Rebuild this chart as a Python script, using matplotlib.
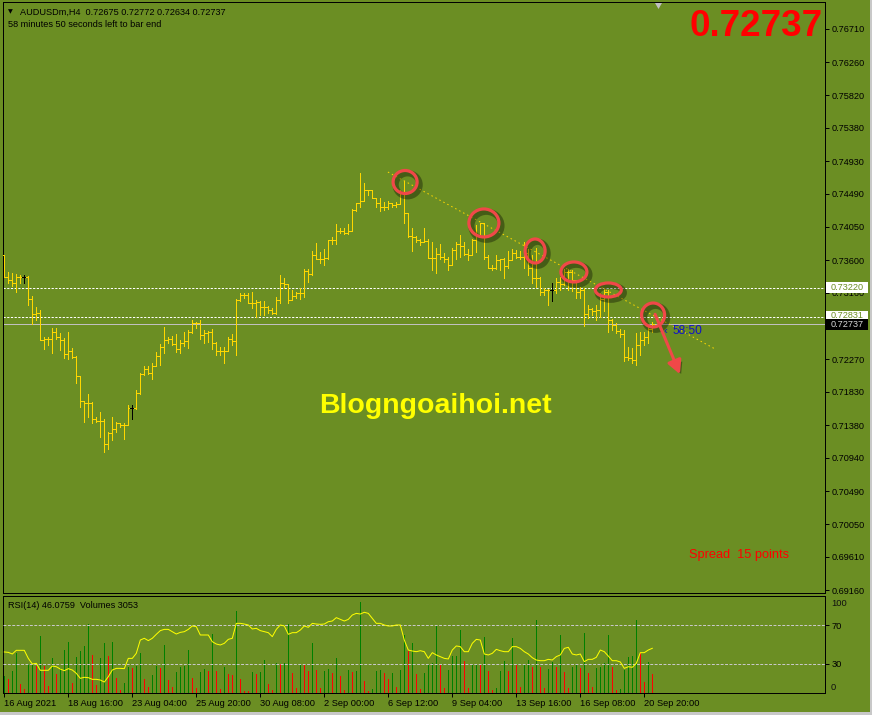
import numpy as np
import matplotlib
matplotlib.use('Agg')
import matplotlib.pyplot as plt
from matplotlib.collections import LineCollection
from matplotlib.patches import Ellipse, FancyArrowPatch, Polygon, Rectangle
import matplotlib.patheffects as pe

# ---------------- data ----------------
symbol = 'AUDUSDm,H4'
ohlc_now = [0.72675, 0.72772, 0.72634, 0.72737]
first_open = 0.7367

closes = [0.7337, 0.7333, 0.7329, 0.7337, 0.7337, 0.7337, 0.7308, 0.7288, 0.7289, 0.7253,
          0.7254, 0.7254, 0.7263, 0.7257, 0.7253, 0.7234, 0.7238, 0.7230, 0.7204, 0.7171,
          0.7168, 0.7168, 0.7146, 0.7144, 0.7144, 0.7113, 0.7128, 0.7133, 0.7141, 0.7138,
          0.7138, 0.7161, 0.7161, 0.7181, 0.7207, 0.7214, 0.7208, 0.7217, 0.7231, 0.7243,
          0.7253, 0.7254, 0.7247, 0.7240, 0.7249, 0.7251, 0.7263, 0.7276, 0.7276, 0.7259,
          0.7262, 0.7263, 0.7249, 0.7238, 0.7238, 0.7238, 0.7254, 0.7251, 0.7306, 0.7313,
          0.7313, 0.7302, 0.7302, 0.7304, 0.7297, 0.7297, 0.7293, 0.7289, 0.7306, 0.7329,
          0.7328, 0.7306, 0.7312, 0.7316, 0.7316, 0.7345, 0.7341, 0.7367, 0.7361, 0.7361,
          0.7363, 0.7387, 0.7387, 0.7399, 0.7399, 0.7396, 0.7399, 0.7427, 0.7437, 0.7440,
          0.7454, 0.7454, 0.7443, 0.7437, 0.7431, 0.7432, 0.7437, 0.7434, 0.7435, 0.7450,
          0.7423, 0.7392, 0.7391, 0.7387, 0.7385, 0.7386, 0.7363, 0.7363, 0.7368, 0.7364,
          0.7362, 0.7353, 0.7374, 0.7382, 0.7379, 0.7368, 0.7367, 0.7387, 0.7394, 0.7410,
          0.7364, 0.7350, 0.7350, 0.7360, 0.7362, 0.7352, 0.7360, 0.7370, 0.7364, 0.7364,
          0.7370, 0.7349, 0.7336, 0.7336, 0.7317, 0.7320, 0.7320, 0.7320, 0.7331, 0.7328,
          0.7344, 0.7344, 0.7333, 0.7317, 0.7320, 0.7288, 0.7294, 0.7291, 0.7293, 0.7308,
          0.7317, 0.7280, 0.7273, 0.7265, 0.7260, 0.7230, 0.7228, 0.7226, 0.7246, 0.7253,
          0.7256, 0.72675, 0.72737]

highs = [0.7367, 0.7344, 0.7343, 0.7341, 0.7340, 0.7340, 0.7338, 0.7312, 0.7297, 0.7293,
         0.7257, 0.7257, 0.7269, 0.7269, 0.7262, 0.7255, 0.7263, 0.7242, 0.7231, 0.7204,
         0.7169, 0.7180, 0.7169, 0.7149, 0.7156, 0.7146, 0.7129, 0.7149, 0.7142, 0.7141,
         0.7141, 0.7165, 0.7165, 0.7185, 0.7208, 0.7218, 0.7217, 0.7222, 0.7236, 0.7247,
         0.7270, 0.7257, 0.7258, 0.7260, 0.7253, 0.7263, 0.7266, 0.7280, 0.7277, 0.7280,
         0.7266, 0.7265, 0.7268, 0.7250, 0.7243, 0.7243, 0.7257, 0.7260, 0.7308, 0.7316,
         0.7316, 0.7316, 0.7317, 0.7306, 0.7305, 0.7305, 0.7298, 0.7296, 0.7310, 0.7340,
         0.7336, 0.7328, 0.7320, 0.7317, 0.7322, 0.7348, 0.7348, 0.7372, 0.7383, 0.7371,
         0.7375, 0.7387, 0.7391, 0.7409, 0.7403, 0.7403, 0.7409, 0.7429, 0.7437, 0.7477,
         0.7464, 0.7453, 0.7454, 0.7444, 0.7443, 0.7438, 0.7440, 0.7437, 0.7438, 0.7454,
         0.7466, 0.7422, 0.7403, 0.7392, 0.7388, 0.7403, 0.7389, 0.7384, 0.7376, 0.7382,
         0.7370, 0.7364, 0.7377, 0.7384, 0.7394, 0.7384, 0.7375, 0.7389, 0.7407, 0.7410,
         0.7410, 0.7367, 0.7353, 0.7367, 0.7361, 0.7363, 0.7372, 0.7375, 0.7374, 0.7372,
         0.7384, 0.7375, 0.7367, 0.7377, 0.7337, 0.7322, 0.7321, 0.7329, 0.7336, 0.7337,
         0.7348, 0.7348, 0.7347, 0.7322, 0.7324, 0.7322, 0.7300, 0.7296, 0.7300, 0.7316,
         0.7322, 0.7320, 0.7281, 0.7275, 0.7267, 0.7266, 0.7243, 0.7242, 0.7262, 0.7263,
         0.7263, 0.7270, 0.72772]

lows = [0.7337, 0.7329, 0.7325, 0.7317, 0.7329, 0.7329, 0.7300, 0.7274, 0.7280, 0.7253,
        0.7240, 0.7246, 0.7235, 0.7254, 0.7239, 0.7228, 0.7227, 0.7228, 0.7195, 0.7163,
        0.7142, 0.7149, 0.7141, 0.7142, 0.7122, 0.7102, 0.7106, 0.7118, 0.7129, 0.7136,
        0.7119, 0.7138, 0.7146, 0.7160, 0.7180, 0.7205, 0.7207, 0.7200, 0.7218, 0.7219,
        0.7235, 0.7249, 0.7246, 0.7236, 0.7235, 0.7245, 0.7242, 0.7262, 0.7269, 0.7254,
        0.7249, 0.7250, 0.7240, 0.7232, 0.7232, 0.7222, 0.7240, 0.7246, 0.7232, 0.7305,
        0.7309, 0.7302, 0.7296, 0.7284, 0.7286, 0.7286, 0.7289, 0.7288, 0.7288, 0.7302,
        0.7322, 0.7302, 0.7306, 0.7309, 0.7308, 0.7310, 0.7331, 0.7340, 0.7363, 0.7356,
        0.7353, 0.7362, 0.7382, 0.7382, 0.7396, 0.7395, 0.7395, 0.7399, 0.7426, 0.7431,
        0.7440, 0.7448, 0.7443, 0.7431, 0.7426, 0.7427, 0.7429, 0.7431, 0.7431, 0.7435,
        0.7410, 0.7391, 0.7372, 0.7384, 0.7380, 0.7384, 0.7363, 0.7347, 0.7343, 0.7361,
        0.7357, 0.7347, 0.7353, 0.7361, 0.7364, 0.7367, 0.7360, 0.7371, 0.7371, 0.7394,
        0.7361, 0.7349, 0.7347, 0.7348, 0.7347, 0.7336, 0.7350, 0.7360, 0.7363, 0.7361,
        0.7350, 0.7340, 0.7329, 0.7324, 0.7313, 0.7313, 0.7300, 0.7305, 0.7316, 0.7320,
        0.7326, 0.7320, 0.7318, 0.7309, 0.7309, 0.7272, 0.7282, 0.7286, 0.7280, 0.7284,
        0.7291, 0.7263, 0.7266, 0.7262, 0.7256, 0.7225, 0.7226, 0.7222, 0.7219, 0.7232,
        0.7246, 0.7249, 0.72634]

volumes = [2650, 2280, 3500, 6360, 1480, 580, 4560, 4600, 4240, 9010,
           4240, 1060, 5510, 2970, 4030, 6780, 8110, 1590, 5720, 6630,
           7420, 10920, 5990, 1220, 5570, 8000, 5830, 8110, 2440, 530,
           1590, 4130, 4000, 4240, 6360, 2170, 950, 2810, 4240, 4030,
           7580, 2120, 900, 3340, 4130, 4240, 6780, 2440, 850, 3340,
           3870, 3500, 9430, 3450, 580, 4130, 2970, 2900, 13040, 2280,
           320, 250, 3340, 2970, 3340, 5190, 1380, 530, 4770, 4560,
           4700, 10920, 3180, 800, 4560, 4400, 3450, 7950, 3600, 800,
           3450, 3760, 3180, 5620, 2650, 530, 3710, 3340, 3500, 14470,
           1910, 320, 580, 3500, 3600, 3180, 2280, 3180, 950, 3600,
           9170, 6680, 7950, 2970, 640, 3180, 4560, 4700, 10760, 4400,
           850, 3600, 5830, 5900, 9960, 5090, 800, 4400, 4500, 4400,
           8900, 3500, 530, 800, 3500, 5090, 3500, 8750, 4400, 950,
           4660, 5190, 4130, 11550, 4130, 800, 3820, 4930, 4130, 9170,
           3340, 800, 4130, 4560, 4030, 9540, 3180, 950, 3980, 4050,
           4770, 9170, 4130, 420, 640, 3600, 5720, 5830, 11550, 6520,
           1750, 4930, 3053]

rsi = [42.3, 41.9, 40.2, 44.0, 44.0, 44.0, 35.7, 29.9, 30.6, 23.4,
       23.4, 23.4, 27.8, 27.1, 24.7, 23.0, 25.1, 23.7, 20.3, 15.1,
       16.2, 15.8, 14.1, 14.1, 13.4, 11.3, 16.8, 23.7, 25.4, 25.4,
       25.1, 35.7, 35.7, 40.9, 54.6, 56.4, 54.0, 56.4, 60.5, 64.3,
       65.6, 65.6, 63.2, 60.8, 62.5, 63.2, 65.6, 69.1, 68.4, 59.8,
       59.8, 59.8, 52.9, 50.5, 49.5, 51.2, 55.3, 56.4, 71.8, 71.8,
       71.1, 70.1, 66.0, 66.7, 64.3, 63.2, 62.2, 58.1, 65.6, 70.1,
       69.1, 60.5, 62.2, 62.2, 64.9, 69.1, 67.7, 71.8, 71.1, 70.8,
       71.1, 73.5, 74.2, 77.7, 75.9, 74.2, 75.9, 80.4, 82.1, 81.4,
       83.2, 82.1, 77.0, 71.8, 71.8, 70.1, 69.1, 69.1, 70.1, 70.1,
       54.6, 44.3, 43.3, 42.6, 43.6, 42.6, 35.7, 41.6, 39.2, 37.5,
       35.7, 35.1, 44.3, 48.5, 47.8, 42.6, 42.6, 51.2, 55.3, 54.6,
       40.2, 39.2, 40.9, 45.0, 43.6, 42.6, 42.6, 47.8, 47.8, 46.0,
       42.6, 40.2, 36.4, 34.0, 33.3, 33.3, 34.7, 34.0, 37.5, 39.2,
       46.0, 47.1, 40.2, 39.2, 40.2, 32.3, 34.7, 34.7, 36.8, 44.3,
       42.6, 38.1, 33.3, 33.3, 32.0, 25.4, 27.1, 26.5, 30.6, 41.6,
       41.6, 44.3, 46.0759]

doji_bars = [5, 32, 137]
time_tick_bars = [0, 16, 32, 48, 64, 80, 96, 112, 128, 144, 160]
time_tick_labels = ['16 Aug 2021', '18 Aug 16:00', '23 Aug 04:00', '25 Aug 20:00',
                    '30 Aug 08:00', '2 Sep 00:00', '6 Sep 12:00', '9 Sep 04:00',
                    '13 Sep 16:00', '16 Sep 08:00', '20 Sep 20:00']
price_ticks = [0.76710, 0.76260, 0.75820, 0.75380, 0.74930, 0.74490, 0.74050, 0.73600,
               0.73160, 0.72270, 0.71830, 0.71380, 0.70940, 0.70490, 0.70050,
               0.69610, 0.69160]
level_lines = [0.73220, 0.72831]
bid = 0.72737
rsi_levels = [30, 70]
rsi_value = 46.0759
trend_bars = [95.9, 177.7]
trend_prices = [0.74785, 0.72405]
# (bar, price, radius_x_px, radius_y_px)
circles = [(100.2, 0.74651, 12, 11.5), (119.9, 0.74100, 15, 14), (132.7, 0.73723, 10, 12),
           (142.4, 0.73441, 13, 10), (151.0, 0.73199, 13, 7), (162.2, 0.72862, 11.5, 12)]
arrow_from = (162.7, 0.72872)
arrow_to = (168.9, 0.72066)
countdown = '58:50'
spread = 15
watermark = 'Blogngoaihoi.net'

# ---------------- layout ----------------
W, H = 872, 715
BG = '#6B8E23'
BAR = '#FFD700'
FONT = 'Liberation Sans'
PX = 0.72  # one pixel in points

fig = plt.figure(figsize=(W / 100, H / 100), dpi=100, facecolor=BG)

def fx(x):
    return x / W

def fy(y):
    return 1 - y / H

L, R = 3, 825
T, B = 2, 593
RT, RB = 596, 693
xlim = ((L - 4.3) / 4, (R - 4.3) / 4)

ax = fig.add_axes([fx(L), fy(B), (R - L) / W, (B - T) / H])
ax.set_facecolor(BG)
ax.set_xlim(*xlim)
ax.set_ylim(0.69123, 0.77072)

n = len(closes)
idx = np.arange(n)
opens = [first_open] + closes[:-1]
opens[-1] = ohlc_now[0]
segs, cols = [], []
for i in range(n):
    o, c = opens[i], closes[i]
    hi = max(highs[i], o, c)
    lo = min(lows[i], o, c)
    col = 'black' if i in doji_bars else BAR
    segs += [[(i, lo), (i, hi)], [(i - 0.5, o), (i, o)], [(i, c), (i + 0.5, c)]]
    cols += [col] * 3
ax.add_collection(LineCollection(segs, colors=cols, linewidths=PX, antialiaseds=False, zorder=3))

for lv in level_lines:
    ax.axhline(lv, color='white', lw=PX, dashes=(2.2, 1.5), zorder=2)
ax.axhline(bid, color='#C0C0C0', lw=PX, zorder=2)

ax.plot(trend_bars, trend_prices, color=BAR, lw=PX, dashes=(1.5, 3.0), zorder=4)

shadow = [pe.SimpleLineShadow(offset=(1.8, -2.0), shadow_color='black', alpha=0.35, linewidth=4.5), pe.Normal()]
ppx = (0.77072 - 0.69123) / (B - T)
for (bx, bp, rx, ry) in circles:
    e = Ellipse((bx, bp), width=2 * rx / 4, height=2 * ry * ppx, fill=False,
                edgecolor='#F04848', lw=2.3, zorder=6)
    e.set_path_effects(shadow)
    ax.add_patch(e)
arr = FancyArrowPatch(arrow_from, arrow_to, arrowstyle='-|>,head_length=8,head_width=4.2',
                      mutation_scale=1, color='#F04848', lw=2.2, zorder=6, shrinkA=0, shrinkB=0)
arr.set_path_effects([pe.SimplePatchShadow(offset=(1.8, -2.0), shadow_rgbFace='black', alpha=0.35), pe.Normal()])
ax.add_patch(arr)

ax.set_xticks([])
ax.yaxis.tick_right()
ax.set_yticks(price_ticks)
ax.set_yticklabels(['%.5f' % p for p in price_ticks], fontsize=6.6, family=FONT, color='#101010')
ax.tick_params(axis='y', direction='out', length=2.6, width=PX, pad=2.2, colors='black')
for s in ax.spines.values():
    s.set_color('black')
    s.set_linewidth(PX)

# ---------------- RSI / volume panel ----------------
axv = fig.add_axes([fx(L), fy(RB), (R - L) / W, (RB - RT) / H])
axv.set_facecolor(BG)
axv.set_xlim(*xlim)
axv.set_ylim(0, 15400)
vcols = ['green'] + ['green' if volumes[i] > volumes[i - 1] else 'red' for i in range(1, n)]
axv.vlines(idx, 0, volumes, colors=vcols, linewidth=PX, antialiased=False, zorder=2)
axv.set_yticks([])
axv.set_xticks(time_tick_bars)
axv.set_xticklabels(time_tick_labels, ha='left', fontsize=6.7, family=FONT, color='#101010')
axv.tick_params(axis='x', direction='out', length=2.6, width=PX, pad=2.0, colors='black')
for s in axv.spines.values():
    s.set_color('black')
    s.set_linewidth(PX)

axr = axv.twinx()
axr.set_xlim(*xlim)
axr.set_ylim(0, 100)
for lv in rsi_levels:
    axr.axhline(lv, color='#C8C8C8', lw=PX, dashes=(2.9, 1.5), zorder=1)
axr.plot(idx, rsi, color='#FFFF00', lw=PX, zorder=3)
axr.set_yticks(rsi_levels)
axr.set_yticklabels([str(v) for v in rsi_levels], fontsize=6.7, family=FONT, color='#101010')
axr.tick_params(axis='y', direction='out', length=2.6, width=PX, pad=2.2, colors='black')
for s in axr.spines.values():
    s.set_visible(False)
fig.text(fx(831), fy(603), '100', fontsize=6.7, family=FONT, color='#101010', va='center')
fig.text(fx(831), fy(687), '0', fontsize=6.7, family=FONT, color='#101010', va='center')

# ---------------- right-axis price boxes ----------------
def price_to_py(p):
    d = ax.transData.transform((0, p))
    return H - d[1]

box_specs = [(level_lines[0], 'white', BG, -1.0), (level_lines[1], 'white', BG, -1.5),
             (bid, 'black', '#D8D8D8', 0.0)]
for p, fc, tc, off in box_specs:
    yc = price_to_py(p) + off
    fig.patches.append(Rectangle((fx(826), fy(yc + 5.2)), 42 / W, 10.4 / H,
                                 transform=fig.transFigure, facecolor=fc, edgecolor='none', zorder=5))
    fig.text(fx(831), fy(yc), '%.5f' % p, fontsize=6.6, family=FONT, color=tc, va='center', zorder=6)

# ---------------- texts ----------------
fig.text(fx(8), fy(12), '\u25BC', fontsize=4.5, family='DejaVu Sans', color='black', va='center')
fig.text(fx(20), fy(12.3), '%s  %s' % (symbol, ' '.join('%.5f' % v for v in ohlc_now)),
         fontsize=6.6, family=FONT, color='black', va='center')
fig.text(fx(8), fy(24.3), '58 minutes 50 seconds left to bar end', fontsize=6.6,
         family=FONT, color='black', va='center')
fig.text(fx(823), fy(26), '%.5f' % bid, fontsize=26.5, family=FONT, weight='bold',
         color='#FF0000', ha='right', va='center')
fig.text(fx(435), fy(406), watermark, fontsize=20.5, family=FONT, weight='bold',
         color='#FFFF00', ha='center', va='center')
fig.text(fx(689), fy(555), 'Spread  %d points' % spread, fontsize=9.2, family=FONT,
         color='#FF0000', va='center')
fig.text(fx(663), fy(331), '\u2039', fontsize=8, family=FONT, color='#1010C8', va='center')
fig.text(fx(672), fy(331), countdown, fontsize=8.6, family=FONT, color='#1010C8', va='center')
fig.text(fx(8), fy(605), 'RSI(14) %.4f  Volumes %d' % (rsi_value, volumes[-1]), fontsize=6.6,
         family=FONT, color='black', va='center')

# shift marker
fig.patches.append(Polygon([(fx(655), fy(3)), (fx(662), fy(3)), (fx(658.5), fy(9))], closed=True,
                           transform=fig.transFigure, facecolor='#C0C0C0', edgecolor='none'))
# window border
fig.patches.append(Rectangle((0, 0), 1, 3 / H, transform=fig.transFigure, facecolor='#C8C8C8', edgecolor='none'))
fig.patches.append(Rectangle((1 - 2 / W, 0), 2 / W, 1, transform=fig.transFigure, facecolor='#C8C8C8', edgecolor='none'))

fig.savefig('out.png', dpi=100, facecolor=BG)
